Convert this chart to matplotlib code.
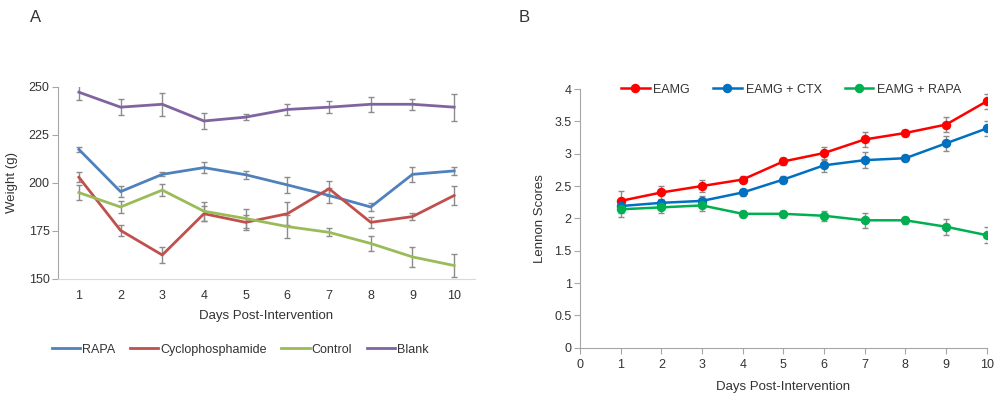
import numpy as np
import matplotlib; matplotlib.use("Agg")
import matplotlib.pyplot as plt

plt.rcParams["font.family"] = ["Liberation Sans", "DejaVu Sans"]

days = [1, 2, 3, 4, 5, 6, 7, 8, 9, 10]

# panel A: weight (g)
rapa = [217.5, 195.5, 204.5, 208, 204.3, 199, 193.5, 187.5, 204.5, 206.3]
rapa_err = [1.5, 3, 1, 3, 2, 4, 4, 2, 4, 2]
cyclo = [203, 175.3, 162.5, 184, 179.5, 184, 197, 179.5, 182.5, 193.5]
cyclo_err = [2.5, 3, 4, 4, 4, 6, 4, 3, 2, 5]
control = [195, 187.5, 196.3, 185.3, 181.5, 177.3, 174.3, 168.5, 161.5, 157]
control_err = [4, 3, 3, 5, 5, 6, 2, 4, 5, 6]
blank = [247.3, 239.5, 241, 232.3, 234.3, 238.3, 239.5, 241, 241, 239.5]
blank_err = [4, 4, 6, 4, 1.7, 2.7, 3, 4, 3, 7]

# panel B: Lennon scores
eamg = [2.27, 2.40, 2.50, 2.60, 2.88, 3.01, 3.22, 3.32, 3.45, 3.81]
eamg_err = [0.15, 0.1, 0.1, 0.05, 0.05, 0.1, 0.12, 0.05, 0.12, 0.12]
ctx = [2.19, 2.24, 2.27, 2.40, 2.60, 2.82, 2.90, 2.93, 3.16, 3.39]
ctx_err = [0.1, 0.05, 0.08, 0.05, 0.05, 0.1, 0.12, 0.05, 0.12, 0.12]
eamg_rapa = [2.14, 2.17, 2.20, 2.07, 2.07, 2.04, 1.97, 1.97, 1.87, 1.74]
eamg_rapa_err = [0.12, 0.08, 0.08, 0.05, 0.05, 0.08, 0.12, 0.05, 0.12, 0.12]

EC = "#8c8c8c"; SP = "#a6a6a6"; TXT = "#333333"

fig = plt.figure(figsize=(9.95, 3.94), dpi=100)
axA = fig.add_axes([0.0583, 0.2919, 0.4191, 0.4873])
axB = fig.add_axes([0.5829, 0.1175, 0.4088, 0.6566])

# ---- A
for y, e, c, lab in [(rapa, rapa_err, "#4F81BD", "RAPA"),
                     (cyclo, cyclo_err, "#C0504D", "Cyclophosphamide"),
                     (control, control_err, "#9BBB59", "Control"),
                     (blank, blank_err, "#8064A2", "Blank")]:
    axA.errorbar(days, y, yerr=e, fmt="none", ecolor=EC, elinewidth=1, capsize=2.5, capthick=1, zorder=2)
    axA.plot(days, y, color=c, lw=2, label=lab, zorder=3)
axA.set_xlim(0.5, 10.5); axA.set_ylim(150, 250)
axA.set_yticks([150, 175, 200, 225, 250])
axA.set_xticks(days)
axA.tick_params(axis="y", length=4, color=SP, labelsize=9, labelcolor=TXT, pad=2)
axA.tick_params(axis="x", length=0, labelsize=9, labelcolor=TXT, pad=8)
for s in ["top", "right"]: axA.spines[s].set_visible(False)
for s in ["left", "bottom"]: axA.spines[s].set_color(SP)
axA.spines["bottom"].set_color("#d9d9d9")
axA.set_xlabel("Days Post-Intervention", fontsize=9.5, color=TXT, labelpad=6)
axA.set_ylabel("Weight (g)", fontsize=9.5, color=TXT, labelpad=8)
axA.legend(loc="upper left", bbox_to_anchor=(-0.027, -0.31), ncol=4, frameon=False,
           fontsize=9, handlelength=2.25, handletextpad=0.15, columnspacing=1.2, labelcolor=TXT,
           borderaxespad=0)

# ---- B
for y, e, c, lab in [(eamg, eamg_err, "#FF0000", "EAMG"),
                     (ctx, ctx_err, "#0070C0", "EAMG + CTX"),
                     (eamg_rapa, eamg_rapa_err, "#00B050", "EAMG + RAPA")]:
    axB.errorbar(days, y, yerr=e, fmt="none", ecolor=EC, elinewidth=1, capsize=2.5, capthick=1, zorder=2)
    axB.plot(days, y, color=c, lw=1.8, marker="o", ms=5.8, label=lab, zorder=3)
axB.set_xlim(0, 10); axB.set_ylim(0, 4)
axB.set_xticks(range(0, 11))
axB.set_yticks([0, 0.5, 1, 1.5, 2, 2.5, 3, 3.5, 4])
axB.set_yticklabels(["0", "0.5", "1", "1.5", "2", "2.5", "3", "3.5", "4"])
axB.tick_params(length=4, color=SP, labelsize=9, labelcolor=TXT, pad=2)
axB.tick_params(axis="x", pad=4)
for s in ["top", "right"]: axB.spines[s].set_visible(False)
for s in ["left", "bottom"]: axB.spines[s].set_color(SP)
axB.set_xlabel("Days Post-Intervention", fontsize=9.5, color=TXT, labelpad=7)
axB.set_ylabel("Lennon Scores", fontsize=9.5, color=TXT, labelpad=6)
axB.legend(loc="upper left", bbox_to_anchor=(0.088, 1.04), ncol=3, frameon=False,
           fontsize=9, handlelength=2.3, handletextpad=0.3, columnspacing=1.85, labelcolor=TXT,
           borderaxespad=0)

fig.text(30/995, 1-18/394, "A", fontsize=12, color=TXT, va="center", ha="left")
fig.text(519/995, 1-17/394, "B", fontsize=12, color=TXT, va="center", ha="left")

fig.savefig("out.png", dpi=100)
